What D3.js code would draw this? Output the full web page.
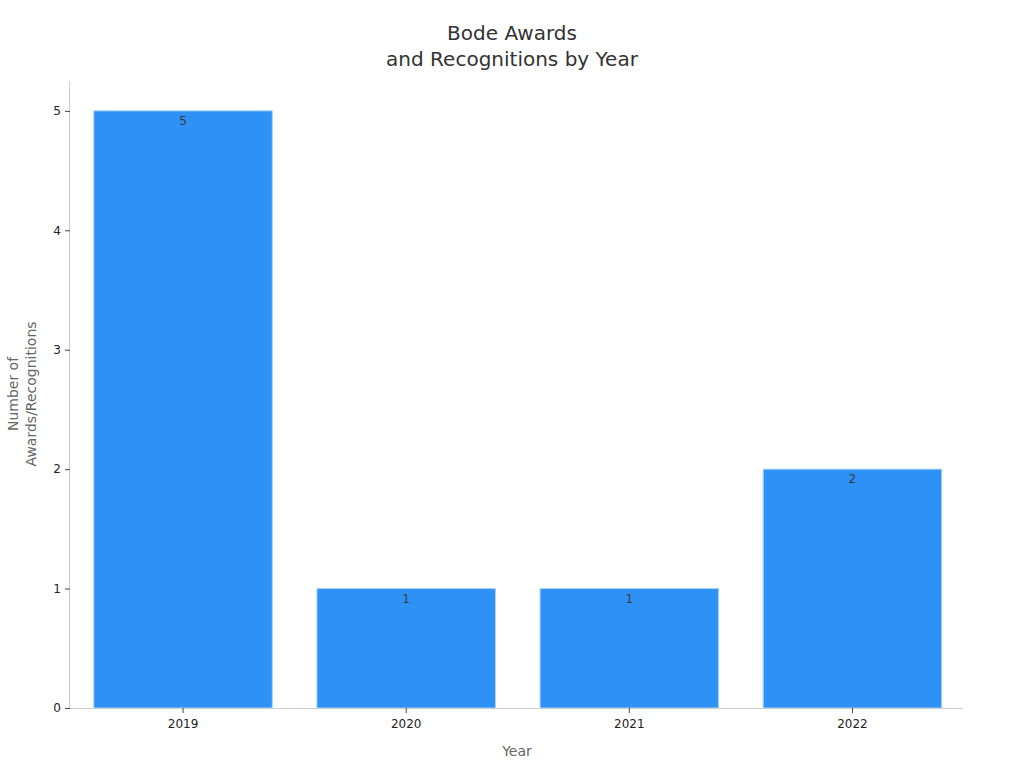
<!DOCTYPE html>
<html><head><meta charset="utf-8">
<script src="https://cdn.jsdelivr.net/npm/d3@7"></script>
<style>body{margin:0;background:#fff;font-family:"DejaVu Sans",sans-serif}</style>
</head><body><svg id="c" width="1024" height="768"></svg>
<script>
const years = ["2019","2020","2021","2022"];
const counts = [5,1,1,2];
const yTicks = [0,1,2,3,4,5];
const titleLines = ["Bode Awards","and Recognitions by Year"];
const yLabelLines = ["Number of","Awards/Recognitions"];
const xLabel = "Year";

const svg = d3.select("#c");
const m = {l:70, r:963, t:81, b:708};
const x = d3.scaleBand().domain(years).range([m.l+1.5, m.r+1]).paddingInner(0.2).paddingOuter(0.1);
const y = d3.scaleLinear().domain([0,5.25]).range([m.b, m.t]);

svg.append("g").selectAll("rect").data(years).join("rect")
  .attr("x", d=>x(d)).attr("width", x.bandwidth())
  .attr("y", (d,i)=>y(counts[i])).attr("height",(d,i)=>y(0)-y(counts[i]))
  .attr("fill","#2e91f5").attr("stroke","#a9d3fb").attr("stroke-width",1);

svg.append("g").selectAll("text").data(years).join("text")
  .attr("x", d=>x(d)+x.bandwidth()/2).attr("y",(d,i)=>y(counts[i])+14)
  .attr("text-anchor","middle").attr("font-size",12).attr("fill","#3a3a3a")
  .text((d,i)=>counts[i]);

const xa = svg.append("g").attr("transform",`translate(0,${m.b})`)
  .call(d3.axisBottom(x).tickSize(5).tickPadding(6));
xa.select(".domain").attr("stroke","#ccc").attr("d",`M${m.l},0.5H${m.r}`);
xa.selectAll(".tick line").attr("stroke","#444");
xa.selectAll("text").attr("font-size",12).attr("fill","#222").attr("font-family","DejaVu Sans");

const ya = svg.append("g").attr("transform",`translate(${m.l},0)`)
  .call(d3.axisLeft(y).tickValues(yTicks).tickFormat(d3.format("d")).tickSize(5).tickPadding(4));
ya.select(".domain").attr("stroke","#ccc").attr("d",`M-0.5,${m.t}V${m.b}`);
ya.selectAll(".tick line").attr("stroke","#444");
ya.selectAll("text").attr("font-size",12).attr("fill","#222").attr("font-family","DejaVu Sans");

svg.append("text").attr("x",512).attr("text-anchor","middle").attr("font-size",20).attr("fill","#333")
  .selectAll("tspan").data(titleLines).join("tspan").attr("x",512).attr("y",(d,i)=>40+i*26).text(d=>d);

svg.append("text").attr("x",517).attr("y",756).attr("text-anchor","middle").attr("font-size",14).attr("fill","#666").text(xLabel);

svg.append("text").attr("transform","translate(0,394) rotate(-90)").attr("text-anchor","middle").attr("font-size",14).attr("fill","#666")
  .selectAll("tspan").data(yLabelLines).join("tspan").attr("x",0).attr("y",(d,i)=>18+i*18).text(d=>d);
</script></body></html>
